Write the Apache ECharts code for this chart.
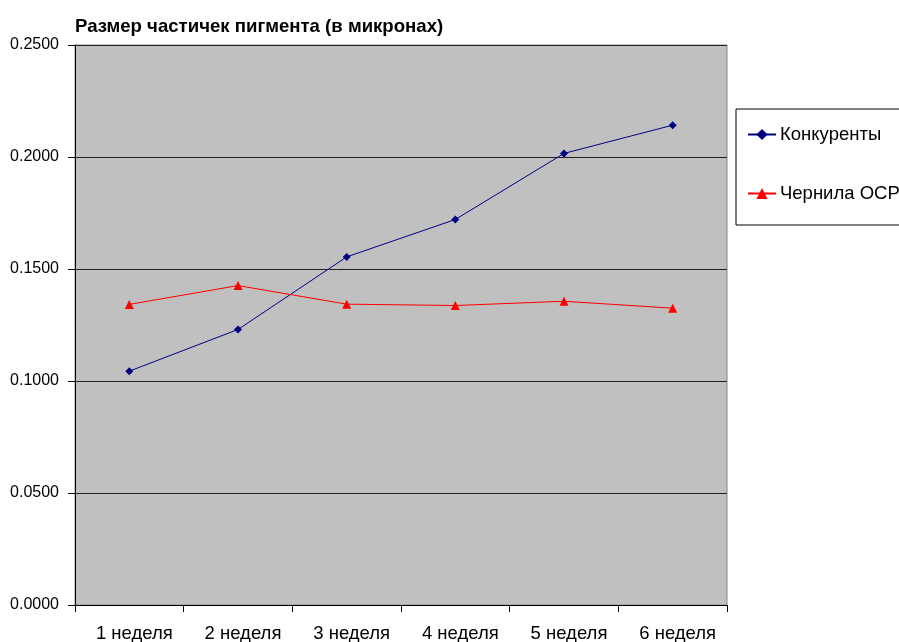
<!DOCTYPE html>
<html>
<head>
<meta charset="utf-8">
<script src="https://cdn.jsdelivr.net/npm/echarts@6/dist/echarts.min.js"></script>
<style>html,body{margin:0;padding:0;background:#fff;}#c{width:899px;height:642px;}</style>
</head>
<body>
<div id="c"></div>
<script>
const titleText = 'Размер частичек пигмента (в микронах)';
const categories = ['1 неделя', '2 неделя', '3 неделя', '4 неделя', '5 неделя', '6 неделя'];
const seriesNames = ['Конкуренты', 'Чернила OCP'];
const competitors = [0.1044, 0.1230, 0.1554, 0.1721, 0.2016, 0.2142];
const ocpInk = [0.1342, 0.1426, 0.1343, 0.1337, 0.1356, 0.1325];
const yTicks = [0, 0.05, 0.1, 0.15, 0.2, 0.25];

const font = 'Liberation Sans, Arial, sans-serif';
const chart = echarts.init(document.getElementById('c'), null, {renderer: 'canvas'});
chart.setOption({
  animation: false,
  backgroundColor: '#ffffff',
  title: {
    text: titleText,
    left: 75, top: 17, padding: 0,
    textStyle: {fontFamily: font, fontSize: 18.6, fontWeight: 'bold', color: '#000'}
  },
  legend: {
    left: 736, top: 109,
    orient: 'vertical',
    padding: [16, 60, 22, 11],
    itemGap: 40,
    itemWidth: 28, itemHeight: 14,
    borderColor: '#000', borderWidth: 1,
    textStyle: {fontFamily: font, fontSize: 18.5, color: '#000', padding: [0, 0, 0, -1]},
    data: seriesNames
  },
  grid: {
    left: 75, right: 172, top: 45, bottom: 37,
    containLabel: false,
    outerBoundsMode: 'none',
    show: true, backgroundColor: '#C0C0C0', borderColor: '#888888', borderWidth: 1
  },
  xAxis: {
    type: 'category', data: categories, boundaryGap: true,
    axisLine: {lineStyle: {color: '#000', width: 1}},
    axisTick: {show: true, length: 7, lineStyle: {color: '#000'}},
    axisLabel: {fontFamily: font, fontSize: 18.5, color: '#000', margin: 19, interval: 0, padding: [0, 0, 0, 10]},
    splitLine: {show: false}
  },
  yAxis: {
    type: 'value', min: yTicks[0], max: yTicks[yTicks.length - 1], interval: yTicks[1] - yTicks[0],
    axisLine: {show: true, lineStyle: {color: '#000', width: 1}},
    axisTick: {show: true, length: 7, lineStyle: {color: '#000'}},
    axisLabel: {fontFamily: font, fontSize: 16, color: '#000', margin: 16, formatter: v => v.toFixed(4)},
    splitLine: {show: true, lineStyle: {color: '#222', width: 1}}
  },
  series: [
    {
      name: seriesNames[0], type: 'line', data: competitors,
      symbol: 'diamond', symbolSize: 8,
      lineStyle: {color: '#000080', width: 1},
      itemStyle: {color: '#000080'}
    },
    {
      name: seriesNames[1], type: 'line', data: ocpInk,
      symbol: 'triangle', symbolSize: 9,
      lineStyle: {color: '#FF0000', width: 1},
      itemStyle: {color: '#FF0000'}
    }
  ]
});
</script>
</body>
</html>
